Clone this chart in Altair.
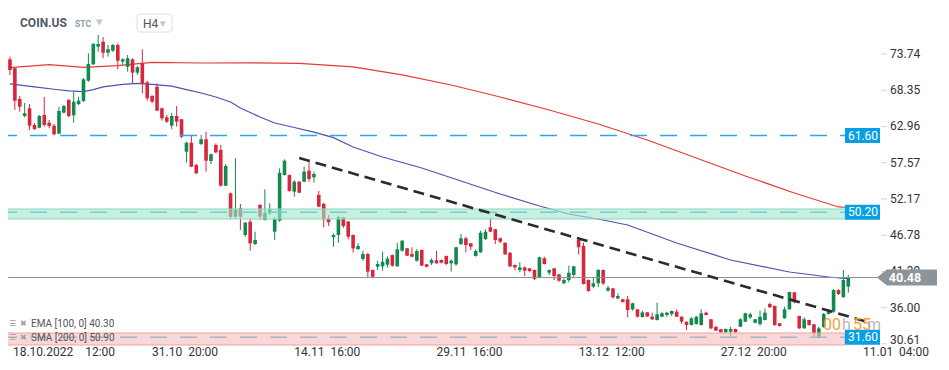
import altair as alt
import pandas as pd

# ---------------- data ----------------
opens = [72.95, 71.61, 67.05, 64.52, 65.66, 63.18, 62.77, 64.66, 63.52, 63.07,
         61.88, 65.01, 66.90, 64.62, 66.30, 66.75, 69.77, 72.21, 74.83, 75.57,
         73.93, 74.23, 75.08, 72.60, 71.85, 72.95, 70.96, 72.36, 69.53, 67.49,
         68.88, 65.66, 64.32, 63.07, 64.52, 64.03, 59.20, 60.54, 57.23, 60.35,
         61.05, 57.82, 60.20, 59.46, 54.14, 53.01, 49.53, 50.78, 46.81, 48.79,
         45.47, 51.27, 49.04, 50.04, 47.30, 48.94, 55.73, 55.73, 53.25, 54.74,
         54.74, 56.38, 55.39, 52.76, 51.42, 49.29, 46.47, 46.81, 49.44, 48.82,
         46.81, 44.72, 43.24, 43.98, 41.60, 42.09, 42.14, 42.39, 43.83, 42.14,
         44.47, 44.83, 43.98, 42.98, 44.58, 42.45, 42.60, 43.04, 43.09, 43.68,
         42.60, 42.45, 45.47, 46.32, 45.57, 43.68, 44.23, 46.21, 47.95, 47.66,
         46.32, 45.66, 44.18, 42.34, 41.60, 41.99, 41.85, 41.60, 40.45, 43.34,
         41.20, 41.85, 40.96, 39.62, 40.11, 40.86, 46.06, 45.17, 40.11, 39.12,
         39.62, 41.60, 38.52, 38.88, 37.36, 37.24, 37.24, 35.75, 35.75, 34.61,
         35.30, 34.65, 34.16, 34.65, 34.90, 35.05, 35.40, 34.65, 33.91, 33.42,
         33.57, 33.42, 35.25, 34.27, 33.16, 32.78, 32.33, 32.42, 32.82, 33.16,
         33.91, 34.56, 33.76, 33.57, 34.16, 36.54, 36.24, 33.67, 34.41, 35.75,
         38.28, 34.76, 32.92, 34.16, 33.52, 31.68, 33.12, 35.05, 35.40, 38.62,
         37.54, 39.12]
highs = [73.34, 71.66, 67.49, 66.45, 66.30, 63.47, 64.66, 67.34, 63.92, 63.33,
         65.85, 66.15, 67.05, 68.13, 67.39, 70.17, 73.84, 75.38, 76.57, 76.27,
         75.08, 75.23, 75.33, 73.10, 73.59, 73.10, 71.95, 74.44, 69.77, 67.64,
         69.38, 65.78, 64.66, 64.96, 66.00, 64.07, 60.69, 61.69, 57.37, 61.69,
         62.18, 58.93, 60.45, 60.20, 57.37, 53.13, 58.22, 51.42, 48.74, 49.29,
         47.30, 51.42, 53.61, 51.52, 49.44, 56.73, 58.07, 55.81, 54.99, 54.84,
         56.97, 57.72, 56.23, 53.35, 51.61, 49.78, 47.06, 49.71, 49.49, 48.89,
         46.88, 45.57, 44.47, 44.18, 41.67, 42.98, 44.32, 43.61, 43.91, 45.62,
         46.06, 44.87, 44.98, 44.68, 44.65, 42.49, 43.34, 44.43, 43.16, 43.76,
         43.19, 45.07, 46.96, 46.55, 45.65, 44.68, 47.45, 47.66, 49.34, 47.70,
         46.44, 45.72, 44.23, 42.42, 42.75, 42.12, 41.90, 41.67, 43.58, 43.58,
         41.67, 41.90, 41.01, 40.36, 42.24, 42.22, 46.17, 45.66, 40.19, 40.51,
         41.75, 41.67, 39.22, 38.92, 38.13, 37.33, 37.73, 36.73, 35.80, 35.54,
         35.35, 35.25, 36.73, 35.40, 35.40, 35.57, 35.75, 34.71, 33.97, 34.56,
         34.76, 35.75, 35.40, 34.31, 33.22, 32.82, 32.87, 33.16, 32.87, 34.41,
         35.25, 35.25, 34.31, 35.54, 35.87, 36.73, 36.32, 33.72, 36.14, 38.37,
         38.33, 34.80, 34.56, 34.21, 33.57, 33.16, 35.20, 35.75, 38.73, 38.73,
         41.60, 40.86]
lows = [70.62, 65.41, 65.16, 64.32, 62.43, 62.43, 62.70, 62.92, 62.68, 61.64,
        61.84, 64.89, 64.32, 63.52, 66.15, 66.60, 69.62, 72.10, 74.08, 73.10,
        73.34, 74.04, 71.46, 72.10, 71.11, 69.38, 70.62, 67.89, 66.80, 66.45,
        65.26, 63.82, 63.47, 62.54, 62.92, 61.19, 57.57, 56.93, 55.88, 60.20,
        56.23, 57.37, 58.96, 54.02, 54.09, 49.14, 49.29, 47.55, 46.55, 44.47,
        45.32, 49.04, 48.97, 49.78, 46.06, 48.79, 55.66, 53.25, 52.51, 53.03,
        54.66, 54.74, 54.59, 50.93, 47.95, 48.15, 45.07, 45.66, 47.85, 46.17,
        44.18, 44.58, 42.94, 40.51, 40.36, 41.60, 41.50, 41.97, 42.09, 42.12,
        44.32, 43.68, 43.49, 42.83, 42.19, 41.99, 42.34, 42.52, 42.57, 42.34,
        41.35, 42.24, 45.32, 44.23, 44.58, 43.58, 44.16, 46.06, 47.25, 45.47,
        45.57, 43.83, 41.99, 41.60, 41.26, 40.71, 41.26, 40.11, 40.36, 42.42,
        40.86, 40.11, 39.86, 39.52, 39.77, 40.60, 43.91, 39.44, 38.37, 38.88,
        39.07, 39.37, 38.37, 37.33, 37.24, 36.76, 34.56, 35.54, 34.53, 34.53,
        34.61, 34.16, 34.09, 34.57, 34.65, 34.76, 34.61, 33.57, 32.67, 33.34,
        33.49, 33.34, 34.83, 32.77, 32.52, 32.27, 32.27, 31.78, 32.27, 33.12,
        33.86, 34.31, 33.67, 33.31, 34.09, 35.98, 33.27, 33.19, 34.35, 35.69,
        36.64, 32.82, 32.86, 33.31, 31.68, 31.43, 32.97, 34.98, 35.25, 37.88,
        37.51, 38.23]
closes = [71.36, 66.80, 65.90, 64.92, 63.07, 62.58, 64.52, 63.18, 63.03, 61.79,
          65.26, 66.00, 64.52, 66.64, 66.80, 69.97, 72.25, 75.23, 75.23, 73.93,
          74.44, 75.08, 72.74, 72.95, 73.10, 70.96, 71.76, 69.38, 67.15, 66.64,
          65.31, 64.17, 63.67, 64.52, 63.67, 61.43, 60.54, 56.97, 55.99, 61.05,
          57.86, 58.82, 59.11, 54.14, 57.08, 49.53, 50.63, 49.53, 48.64, 45.57,
          46.06, 49.53, 50.13, 50.63, 49.14, 56.08, 57.86, 53.35, 54.74, 53.10,
          56.23, 55.14, 55.88, 51.02, 49.14, 48.70, 46.81, 49.44, 48.15, 46.55,
          44.80, 45.17, 43.98, 41.35, 40.60, 42.49, 42.83, 43.28, 42.24, 44.68,
          45.96, 43.73, 43.58, 44.43, 42.24, 42.09, 43.09, 42.60, 42.69, 42.49,
          42.98, 44.98, 46.32, 45.32, 45.07, 44.43, 47.15, 47.30, 47.30, 46.06,
          45.81, 43.93, 42.14, 41.99, 41.99, 41.50, 41.45, 40.26, 43.49, 42.49,
          41.60, 40.71, 40.01, 40.11, 41.20, 42.14, 44.98, 39.52, 38.48, 39.62,
          41.60, 39.59, 38.97, 37.54, 37.73, 36.84, 35.65, 36.64, 34.65, 35.30,
          34.68, 34.26, 35.01, 35.16, 35.25, 35.50, 34.65, 33.91, 33.42, 34.41,
          34.65, 35.16, 34.90, 32.92, 32.57, 32.33, 32.82, 32.82, 32.33, 34.27,
          35.16, 35.01, 34.27, 34.65, 35.25, 36.05, 33.42, 33.27, 35.75, 38.33,
          36.79, 32.92, 34.27, 33.42, 32.18, 32.92, 35.05, 35.55, 38.62, 38.03,
          40.11, 40.48]

tick_idx = [0, 29, 58, 87, 116, 145, 174]
tick_dates = ["18.10.2022", "31.10", "14.11", "29.11", "13.12", "27.12", "11.01"]
tick_times = ["12:00", "20:00", "16:00", "16:00", "12:00", "20:00", "04:00"]
price_ticks = [73.74, 68.35, 62.96, 57.57, 52.17, 46.78, 41.39, 36.00, 30.61]

ema_idx = [0, 5, 9, 12, 15, 17, 19, 23, 26, 29, 33, 36, 39, 42, 45, 47, 51, 54,
           58, 62, 66, 70, 76, 84, 92, 100, 108, 114, 121, 126, 136, 147, 159, 167, 171]
ema_val = [69.28, 68.85, 68.49, 68.25, 68.13, 68.45, 68.85, 69.23, 69.38, 69.23,
           68.95, 68.45, 67.94, 67.34, 66.60, 65.71, 64.37, 63.47, 62.80, 62.12,
           61.30, 59.90, 58.41, 56.78, 54.84, 52.91, 51.12, 49.93, 49.04, 48.30,
           45.62, 43.09, 41.30, 40.56, 40.30]
sma_idx = [0, 8, 15, 22, 29, 39, 49, 59, 70, 80, 90, 100, 110, 120, 130, 140, 150, 160, 169, 171]
sma_val = [71.70, 72.15, 71.75, 72.00, 72.48, 72.40, 72.43, 72.33, 71.81, 70.62,
           69.13, 67.34, 65.41, 63.33, 60.94, 58.27, 55.59, 53.06, 50.98, 50.90]

trend_idx = [59, 175]
trend_val = [58.27, 33.86]

levels = [61.60, 50.20, 31.60]
green_zone = [49.19, 50.68]
red_zone = [30.44, 32.23]
last_price = 40.48
ema_last = 40.30
sma_last = 50.90
symbol = "COIN.US"
interval = "H4"
countdown = ["00", "h", "55", "m"]

x_domain = [-1.01, 176.45]
y_domain = [30.44, 77.31]

# ---------------- chart ----------------
GREEN = "#12894f"
RED = "#d7263d"
BLUE_TAG = "#07a0e4"
FONT = "Roboto"

n = len(opens)
candles = pd.DataFrame({"i": list(range(n)), "open": opens, "high": highs,
                        "low": lows, "close": closes})
candles["dir"] = ["up" if c >= o else "down" for o, c in zip(opens, closes)]

xs = alt.Scale(domain=x_domain, nice=False, zero=False)
ys = alt.Scale(domain=y_domain, nice=False, zero=False)


def X(field):
    return alt.X(field, scale=xs, axis=None)


def Y(field):
    return alt.Y(field, scale=ys, axis=None)


color = alt.Color("dir:N", scale=alt.Scale(domain=["up", "down"], range=[GREEN, RED]),
                  legend=None)

wicks = alt.Chart(candles).mark_rule(strokeWidth=1).encode(
    x=X("i:Q"), y=Y("low:Q"), y2="high:Q", color=color)
bodies = alt.Chart(candles).mark_bar(size=3.6).encode(
    x=X("i:Q"), y=Y("open:Q"), y2="close:Q", color=color)


def series_line(idx, val, col, width, dash=None):
    df = pd.DataFrame({"i": idx, "v": val})
    kw = dict(color=col, strokeWidth=width)
    if dash:
        kw["strokeDash"] = dash
    return alt.Chart(df).mark_line(**kw).encode(x=X("i:Q"), y=Y("v:Q"))


sma = series_line(sma_idx, sma_val, "#e53b35", 1.2)
ema = series_line(ema_idx, ema_val, "#4d52b3", 1.2)
trend = series_line(trend_idx, trend_val, "#2b2b2b", 2.6, dash=[11, 6])

# ---- price axis (right) drawn through the y scale ----
yt_df = pd.DataFrame({"v": price_ticks, "t": [f"{v:.2f}" for v in price_ticks]})
y_ticks = alt.Chart(yt_df).mark_rule(color="#d5d5d5", strokeWidth=1).encode(
    y=Y("v:Q"), x=alt.value(881), x2=alt.value(887))
y_labels = alt.Chart(yt_df.iloc[:-1]).mark_text(
    font=FONT, fontSize=12, color="#333333", align="left", baseline="middle"
).encode(y=Y("v:Q"), x=alt.value(890), text="t:N")
y_label_last = alt.Chart(yt_df.iloc[-1:]).mark_text(
    font=FONT, fontSize=12, color="#333333", align="left", baseline="middle", dy=-4
).encode(y=Y("v:Q"), x=alt.value(890), text="t:N")

# ---- time axis (bottom) drawn through the x scale ----
x_text = []
for d, t in zip(tick_dates, tick_times):
    gap = "\u00a0\u00a0\u00a0\u00a0" if len(d) > 5 else "\u00a0\u00a0"
    x_text.append(d + gap + t)
xt_df = pd.DataFrame({"i": tick_idx, "t": x_text})
x_ticks = alt.Chart(xt_df).mark_rule(color="#d0d0d0", strokeWidth=1).encode(
    x=X("i:Q"), y=alt.value(313), y2=alt.value(317))
x_labels_first = alt.Chart(xt_df.iloc[:1]).mark_text(
    font=FONT, fontSize=12, color="#333333", align="left", baseline="middle",
    dx=3).encode(x=X("i:Q"), y=alt.value(322), text="t:N")
x_labels_rest = alt.Chart(xt_df.iloc[1:]).mark_text(
    font=FONT, fontSize=12, color="#333333", align="left", baseline="middle"
).encode(x=X("i:Q"), y=alt.value(322), text="t:N")

lvl_df = pd.DataFrame({"v": levels})
level_lines = alt.Chart(lvl_df).mark_rule(strokeDash=[17, 13], strokeWidth=1.5,
                                          color="#2ba7ea").encode(
    y=Y("v:Q"), x=alt.value(0), x2=alt.value(845))


def zone(z, fill, stroke):
    df = pd.DataFrame({"lo": [z[0]], "hi": [z[1]]})
    return alt.Chart(df).mark_rect(fill=fill, fillOpacity=0.6, stroke=stroke,
                                   strokeWidth=1).encode(
        y=Y("lo:Q"), y2="hi:Q", x=alt.value(0), x2=alt.value(845))


gzone = zone(green_zone, "#a3e6cd", "#8bd9bb")
rzone = zone(red_zone, "#f7bcbc", "#efa3a3")

price_line = alt.Chart(pd.DataFrame({"v": [last_price]})).mark_rule(
    color="#8a949a", strokeWidth=1).encode(
    y=Y("v:Q"), x=alt.value(0), x2=alt.value(878))

tag_shape = "M-1,-0.43 L1,-0.43 L1,0.43 L-1,0.43 Z"
tags_df = pd.DataFrame({"v": levels, "t": [f"{v:.2f}" for v in levels]})
tags = alt.Chart(tags_df).mark_point(shape=tag_shape, size=1225, filled=True,
                                     fill=BLUE_TAG, opacity=1, strokeWidth=0).encode(
    y=Y("v:Q"), x=alt.value(862.5))
tags_txt = alt.Chart(tags_df).mark_text(color="white", font=FONT, fontSize=12,
                                        align="center", baseline="middle").encode(
    y=Y("v:Q"), x=alt.value(863), text="t:N")

arrow_shape = "M-1,0 L-0.67,-0.27 L1,-0.27 L1,0.27 L-0.67,0.27 Z"
last_df = pd.DataFrame({"v": [last_price], "t": [f"{last_price:.2f}"]})
last_tag = alt.Chart(last_df).mark_point(shape=arrow_shape, size=3600, filled=True,
                                         fill="#8a949a", opacity=1, strokeWidth=0).encode(
    y=Y("v:Q"), x=alt.value(907))
last_txt = alt.Chart(last_df).mark_text(color="white", font=FONT, fontSize=12.5,
                                        fontWeight="bold", align="center",
                                        baseline="middle").encode(
    y=Y("v:Q"), x=alt.value(905), text="t:N")


def label(text, x, y, size, col, weight="normal", font=FONT, align="left"):
    return alt.Chart(pd.DataFrame({"t": [text]})).mark_text(
        fontSize=size, color=col, fontWeight=weight, font=font, align=align,
        baseline="middle").encode(x=alt.value(x), y=alt.value(y), text="t:N")


h4_box = alt.Chart(pd.DataFrame({"a": [0]})).mark_rect(
    fill="white", stroke="#dedede", strokeWidth=1, cornerRadius=3).encode(
    x=alt.value(137), x2=alt.value(172), y=alt.value(-16), y2=alt.value(2))

header = [
    label(symbol, 20, -7, 12, "#4d5966", weight="bold"),
    label("STC", 75, -6, 8.5, "#8a9aab", weight="bold"),
    label("\u25be", 96, -8, 13, "#c4c4c4", font="DejaVu Sans"),
    h4_box,
    label(interval, 143, -6, 12, "#555555"),
    label("\u25be", 160, -6, 11, "#c4c4c4", font="DejaVu Sans"),
]

legend = [
    label("\u2630", 9, 293.5, 8, "#a0a0a0", font="DejaVu Sans"),
    label("\u2716", 20, 293.5, 8, "#a0a0a0", font="DejaVu Sans"),
    label(f"EMA [100, 0] {ema_last:.2f}", 31, 293.5, 10, "#555555"),
    label("\u2630", 9, 307.5, 8, "#a0a0a0", font="DejaVu Sans"),
    label("\u2716", 20, 307.5, 8, "#a0a0a0", font="DejaVu Sans"),
    label(f"SMA [200, 0] {sma_last:.2f}", 31, 307.5, 10, "#555555"),
]

timer = [
    label(countdown[0], 823, 295, 16, "#f5a030"),
    label(countdown[1], 842, 295, 16, "#b8b8b8"),
    label(countdown[2], 853, 295, 16, "#f5a030"),
    label(countdown[3], 867, 295, 16, "#b8b8b8"),
]

chart = alt.layer(
    wicks, sma, ema, bodies, level_lines, gzone, rzone, price_line, trend,
    y_ticks, y_labels, y_label_last, x_ticks, x_labels_first, x_labels_rest,
    tags, tags_txt, last_tag, last_txt, *header, *legend, *timer
).properties(
    width=880, height=315,
    padding={"left": -8, "top": 22, "right": 60, "bottom": 16},
    autosize=alt.AutoSizeParams(type="none"),
    background="white",
).configure_view(strokeWidth=0)

chart.save("out.html", embed_options={"renderer": "svg", "actions": False})
